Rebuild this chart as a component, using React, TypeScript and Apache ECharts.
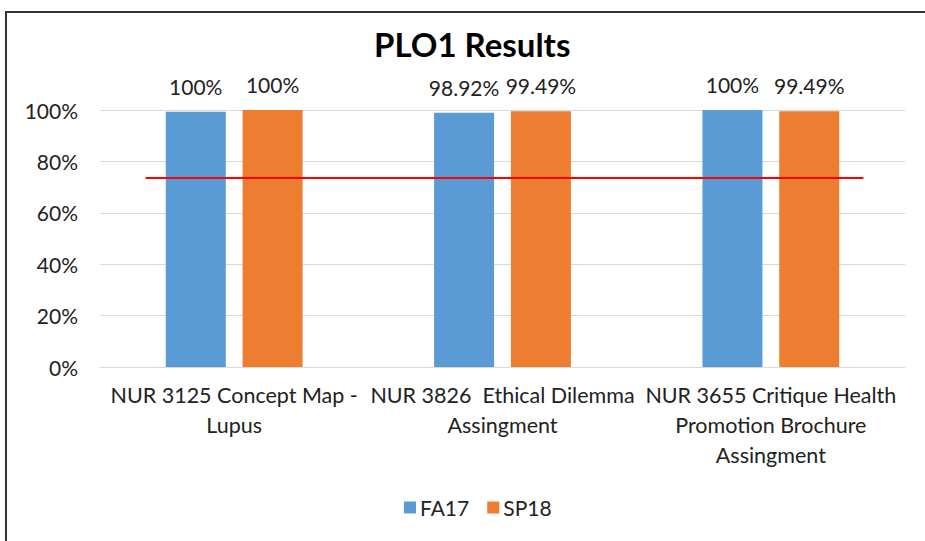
import React, { useEffect, useRef } from "react";
import * as echarts from "echarts";

const categories = [
  "NUR 3125 Concept Map -\nLupus",
  "NUR 3826  Ethical Dilemma\nAssingment",
  "NUR 3655 Critique Health\nPromotion Brochure\nAssingment",
];
const fa17Values = [99.3, 98.92, 100];
const sp18Values = [100, 99.49, 99.49];
const fa17Labels = ["100%", "98.92%", "100%"];
const sp18Labels = ["100%", "99.49%", "99.49%"];
const yTicks = [0, 20, 40, 60, 80, 100];
const thresholdLine = [
  [0.17, 73.5],
  [2.845, 73.5],
];

const FONT = "Lato, 'Open Sans', sans-serif";

export default function App() {
  const ref = useRef<HTMLDivElement>(null);
  useEffect(() => {
    if (!ref.current) return;
    const chart = echarts.init(ref.current, undefined, { renderer: "svg" });
    chart.setOption({
      animation: false,
      backgroundColor: "transparent",
      textStyle: { fontFamily: FONT },
      title: {
        text: "PLO1 Results",
        left: 369,
        top: 22,
        textStyle: { fontFamily: FONT, fontWeight: "bold", fontSize: 33, color: "#000" },
      },
      legend: {
        top: 492,
        left: 399,
        itemWidth: 12,
        itemHeight: 12,
        itemGap: 18,
        icon: "rect",
        textStyle: { fontFamily: FONT, fontSize: 21, color: "#222", padding: [0, 0, 0, -1] },
        data: ["FA17", "SP18"],
      },
      grid: { left: 100, right: 20, top: 110, bottom: 174 },
      xAxis: [
        {
          type: "category",
          data: categories,
          axisTick: { show: false },
          axisLine: { lineStyle: { color: "#d9d9d9" } },
          axisLabel: {
            interval: 0,
            fontFamily: FONT,
            fontSize: 21.5,
            color: "#222",
            lineHeight: 30,
            margin: 13,
          },
        },
        { type: "value", min: 0, max: 3, show: false },
      ],
      yAxis: {
        type: "value",
        min: yTicks[0],
        max: yTicks[yTicks.length - 1],
        interval: 20,
        axisLine: { show: false },
        axisTick: { show: false },
        splitLine: { lineStyle: { color: "#d9d9d9" } },
        axisLabel: {
          formatter: "{value}%",
          fontFamily: FONT,
          fontSize: 21,
          color: "#222",
          margin: 22,
        },
      },
      series: [
        {
          name: "FA17",
          type: "bar",
          data: fa17Values,
          barWidth: 60,
          barGap: "28%",
          itemStyle: { color: "#5B9BD5" },
          label: {
            show: true,
            position: "top",
            distance: 15,
            fontFamily: FONT,
            fontSize: 21,
            color: "#222",
            formatter: (p: any) => fa17Labels[p.dataIndex],
          },
        },
        {
          name: "SP18",
          type: "bar",
          data: sp18Values,
          barWidth: 60,
          itemStyle: { color: "#ED7D31" },
          label: {
            show: true,
            position: "top",
            distance: 15,
            fontFamily: FONT,
            fontSize: 21,
            color: "#222",
            formatter: (p: any) => sp18Labels[p.dataIndex],
          },
        },
        {
          name: "Target",
          type: "line",
          xAxisIndex: 1,
          data: thresholdLine,
          symbol: "none",
          lineStyle: { color: "#FF0000", width: 2 },
          silent: true,
        },
      ],
    });
    return () => chart.dispose();
  }, []);
  return (
    <div
      style={{
        position: "fixed",
        left: 0,
        top: 0,
        width: 925,
        height: 541,
        overflow: "hidden",
        background: "#fff",
      }}
    >
      <div
        style={{
          position: "absolute",
          left: 5,
          top: 11,
          width: 960,
          height: 600,
          borderTop: "2px solid #333",
          borderLeft: "2px solid #333",
        }}
      />
      <div
        ref={ref}
        style={{ position: "absolute", left: 0, top: 0, width: 925, height: 541 }}
      />
    </div>
  );
}
